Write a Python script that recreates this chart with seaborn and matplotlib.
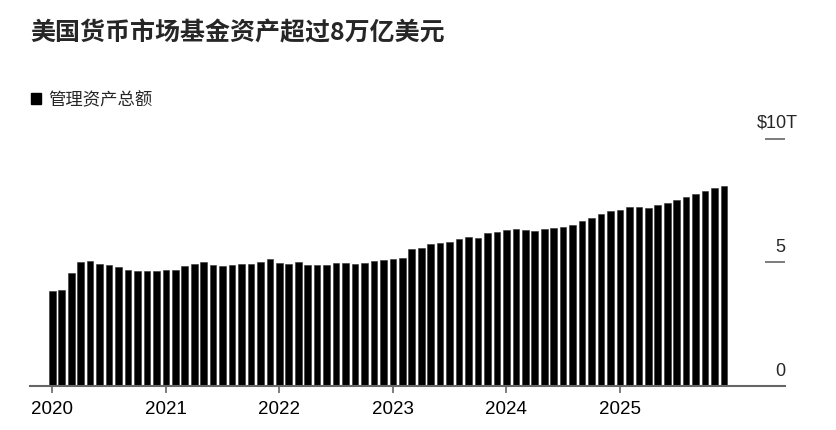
import pandas as pd
import seaborn as sns
import matplotlib.pyplot as plt
from matplotlib.patches import Patch


# monthly totals, Jan 2020 - Dec 2025, trillions of dollars
ASSETS_2020 = [3.83, 3.86, 4.56, 5.02, 5.05, 4.93, 4.89, 4.82, 4.71, 4.64, 4.64, 4.64]
ASSETS_2021 = [4.68, 4.71, 4.86, 4.93, 5.01, 4.91, 4.87, 4.89, 4.93, 4.95, 5.00, 5.12]
ASSETS_2022 = [4.98, 4.95, 5.00, 4.91, 4.89, 4.91, 4.97, 4.97, 4.95, 4.98, 5.05, 5.10]
ASSETS_2023 = [5.12, 5.17, 5.53, 5.60, 5.76, 5.78, 5.82, 5.93, 6.01, 5.97, 6.19, 6.22]
ASSETS_2024 = [6.33, 6.37, 6.30, 6.29, 6.37, 6.41, 6.42, 6.53, 6.68, 6.78, 6.98, 7.09]
ASSETS_2025 = [7.14, 7.23, 7.23, 7.22, 7.32, 7.42, 7.52, 7.65, 7.76, 7.91, 8.03, 8.08]

YEARS = ["2020", "2021", "2022", "2023", "2024", "2025"]
Y_TICKS = [0, 5, 10]
Y_LABELS = ["0", "5", "$10T"]

TITLE = "美国货币市场基金资产超过8万亿美元"
LEGEND_LABEL = "管理资产总额"

W, H = 837, 430
GRAY = "#666666"


def build_frame():
    values = ASSETS_2020 + ASSETS_2021 + ASSETS_2022 + ASSETS_2023 + ASSETS_2024 + ASSETS_2025
    months = [f"{y}-{m:02d}" for y in YEARS for m in range(1, 13)]
    return pd.DataFrame({"month": months, "assets": values})


def main():
    sns.set_theme(style="white")
    plt.rcParams["font.family"] = ["Noto Sans CJK SC", "DejaVu Sans"]

    df = build_frame()

    fig = plt.figure(figsize=(W / 100, H / 100), dpi=100)
    left, right = 30 / W, 785 / W
    bottom, top = 1 - 385.7 / H, 1 - 139 / H
    ax = fig.add_axes([left, bottom, right - left, top - bottom])

    sns.barplot(data=df, x="month", y="assets", color="black", saturation=1,
                width=0.7, linewidth=0.4, edgecolor="#333333", ax=ax)

    n = len(df)
    px_per_month = 9.46
    x0 = -(52.3 - 30) / px_per_month
    ax.set_xlim(x0, x0 + (785 - 30) / px_per_month)
    ax.set_ylim(0, 10)

    ax.set_xticks(range(0, n, 12))
    ax.set_xticklabels(YEARS, fontsize=13.5, family="Liberation Sans", color="black")
    ax.tick_params(axis="x", bottom=True, length=5, width=1.2, color=GRAY, pad=6)
    ax.set_xlabel("")
    ax.set_ylabel("")

    # right side scale: short dashes with the numbers sitting above them
    ax.set_yticks(Y_TICKS[1:])
    ax.set_yticklabels([])
    ax.yaxis.tick_right()
    ax.tick_params(axis="y", right=True, direction="in", length=14.5, width=1.2, color=GRAY)
    for val, lab in zip(Y_TICKS, Y_LABELS):
        if lab.startswith("$"):
            ax.annotate(lab, xy=(1, val), xycoords=("axes fraction", "data"),
                        xytext=(-28, 11), textcoords="offset pixels",
                        ha="left", va="baseline", fontsize=13, family="Liberation Sans")
        else:
            ax.annotate(lab, xy=(1, val), xycoords=("axes fraction", "data"),
                        xytext=(0, 10), textcoords="offset pixels",
                        ha="right", va="baseline", fontsize=13, family="Liberation Sans")

    for side in ["top", "left", "right"]:
        ax.spines[side].set_visible(False)
    ax.spines["bottom"].set_color(GRAY)
    ax.spines["bottom"].set_linewidth(1.5)

    fig.text(30 / W, 1 - 33 / H, TITLE, fontsize=18, fontweight="heavy",
             ha="left", va="center")

    handle = Patch(facecolor="black", edgecolor="black", label=LEGEND_LABEL)
    fig.legend(handles=[handle], loc="center left", bbox_to_anchor=(31 / W, 1 - 100 / H),
               frameon=False, fontsize=12.5, handlelength=0.6, handleheight=0.6,
               handletextpad=0.4, borderpad=0, borderaxespad=0)

    fig.savefig("out.png", dpi=100)


if __name__ == "__main__":
    main()
